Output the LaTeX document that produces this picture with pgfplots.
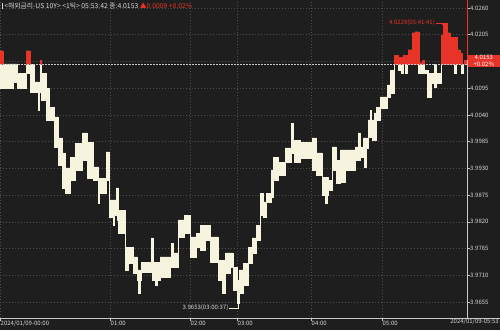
\documentclass[border=0pt]{standalone}
\usepackage{pgfplots}
\pgfplotsset{compat=1.18}
\usepackage{fontspec}
\setmainfont{Noto Sans CJK KR}
\definecolor{bg}{RGB}{30,30,30}
\definecolor{grd}{RGB}{78,78,78}
\definecolor{cream}{RGB}{246,244,222}
\definecolor{upred}{RGB}{232,52,40}
\definecolor{axgray}{RGB}{200,200,200}
\definecolor{txt}{RGB}{215,215,215}
\newcommand{\sm}{\fontsize{6}{7}\selectfont}
\pagecolor{bg}
\begin{document}
\begin{tikzpicture}
\begin{axis}[
  at={(0pt,12pt)}, anchor=south west, scale only axis,
  width=467pt, height=318pt,
  xmin=0, xmax=467, ymin=3.96221, ymax=4.02765,
  axis line style={draw=none},
  clip mode=individual,
  xtick={0,110,190,237,311,382},
  xticklabels={2024/01/09-00:00,01:00,02:00,03:00,04:00,05:00},
  ytick={3.9655,3.9710,3.9765,3.9820,3.9875,3.9930,3.9985,4.0040,4.0095,4.0150,4.0205,4.0260},
  yticklabels={3.9655,3.9710,3.9765,3.9820,3.9875,3.9930,3.9985,4.0040,4.0095,,4.0205,4.0260},
  xtick pos=left, ytick pos=right, yticklabel pos=right,
  tick align=outside, major tick length=2.5pt,
  tick style={axgray, line width=0.5pt},
  /pgf/number format/assume math mode=true,
  x tick label style={font=\sm, text=txt, anchor=north west, inner sep=0pt, xshift=0.5pt, yshift=-0.5pt},
  y tick label style={font=\sm, text=txt, anchor=west, inner sep=0pt, xshift=0.5pt},
  xmajorgrids, ymajorgrids,
  major grid style={grd, line width=0.5pt, dash pattern=on 1pt off 2pt},
]
% high/low envelope of the ticks: upper edge left to right, then lower edge right to left
\addplot[fill=cream, draw=cream, line width=0.4pt] coordinates {
(0,4.0172)(3,4.0172)(3,4.0145)(17,4.0145)(17,4.0126)(26,4.0126)(26,4.0172)(30,4.0172)(30,4.0144)(34,4.0144)(34,4.0108)(40,4.0108)(40,4.0153)(41,4.0153)(41,4.0126)(46,4.0126)(46,4.0095)(49,4.0095)(49,4.0056)(54,4.0056)(54,4.0036)(58,4.0036)(58,3.9993)(62,3.9993)(62,3.9962)(65,3.9962)(65,3.9931)(70,3.9931)(70,3.9953)(75,3.9953)(75,3.9982)(82,3.9982)(82,4.0003)(87,4.0003)(87,3.9984)(93,3.9984)(93,3.9933)(98,3.9933)(98,3.9910)(106,3.9910)(106,3.9964)(109,3.9964)(109,3.9865)(116,3.9865)(116,3.9890)(118,3.9890)(118,3.9844)(125,3.9844)(125,3.9768)(133,3.9768)(133,3.9748)(137,3.9748)(137,3.9721)(141,3.9721)(141,3.9737)(151,3.9737)(151,3.9787)(153,3.9787)(153,3.9737)(160,3.9737)(160,3.9748)(171,3.9748)(171,3.9776)(173,3.9776)(173,3.9756)(178,3.9756)(178,3.9824)(184,3.9824)(184,3.9834)(190,3.9834)(190,3.9789)(196,3.9789)(196,3.9797)(200,3.9797)(200,3.9813)(210,3.9813)(210,3.9789)(218,3.9789)(218,3.9741)(225,3.9741)(225,3.9756)(233,3.9756)(233,3.9727)(237,3.9727)(237,3.9700)(239,3.9700)(239,3.9721)(243,3.9721)(243,3.9735)(248,3.9735)(248,3.9768)(252,3.9768)(252,3.9787)(256,3.9787)(256,3.9813)(260,3.9813)(260,3.9879)(263,3.9879)(263,3.9861)(266,3.9861)(266,3.9879)(271,3.9879)(271,3.9927)(273,3.9927)(273,3.9953)(278,3.9953)(278,3.9943)(285,3.9943)(285,3.9972)(291,3.9972)(291,4.0023)(293,4.0023)(293,3.9988)(300,3.9988)(300,3.9984)(312,3.9984)(312,3.9993)(316,3.9993)(316,3.9962)(322,3.9962)(322,3.9912)(328,3.9912)(328,3.9906)(332,3.9906)(332,3.9974)(336,3.9974)(336,3.9947)(340,3.9947)(340,3.9968)(355,3.9968)(355,3.9974)(358,3.9974)(358,4.0003)(360,4.0003)(360,3.9974)(363,3.9974)(363,3.9993)(368,3.9993)(368,4.0030)(370,4.0030)(370,4.0050)(371,4.0050)(371,4.0030)(374,4.0030)(374,4.0044)(375,4.0044)(375,4.0030)(376,4.0030)(376,4.0056)(380,4.0056)(380,4.0077)(387,4.0077)(387,4.0102)(390,4.0102)(390,4.0132)(394,4.0132)(394,4.0163)(398,4.0163)(398,4.0159)(403,4.0159)(403,4.0163)(408,4.0163)(408,4.0174)(412,4.0174)(412,4.0209)(415,4.0209)(415,4.0211)(419,4.0211)(419,4.0147)(422,4.0147)(422,4.0153)(424,4.0153)(424,4.0132)(428,4.0132)(428,4.0126)(434,4.0126)(434,4.0144)(436,4.0144)(436,4.0126)(441,4.0126)(441,4.0204)(443,4.0204)(443,4.0229)(447,4.0229)(447,4.0209)(450,4.0209)(450,4.0200)(457,4.0200)(457,4.0174)(460,4.0174)(460,4.0167)(462,4.0167)(462,4.0144)(464,4.0144)(464,4.0153)(467,4.0153)
(467,4.0144)(463,4.0144)(463,4.0126)(461,4.0126)(461,4.0144)(456,4.0144)(456,4.0126)(454,4.0126)(454,4.0144)(441,4.0144)(441,4.0106)(436,4.0106)(436,4.0097)(434,4.0097)(434,4.0106)(431,4.0106)(431,4.0077)(427,4.0077)(427,4.0126)(418,4.0126)(418,4.0144)(407,4.0144)(407,4.0126)(405,4.0126)(405,4.0144)(403,4.0144)(403,4.0126)(401,4.0126)(401,4.0132)(398,4.0132)(398,4.0144)(394,4.0144)(394,4.0085)(390,4.0085)(390,4.0077)(387,4.0077)(387,4.0054)(380,4.0054)(380,4.0030)(376,4.0030)(376,3.9988)(372,3.9988)(372,3.9995)(368,3.9995)(368,3.9972)(366,3.9972)(366,3.9933)(364,3.9933)(364,3.9972)(363,3.9972)(363,3.9953)(360,3.9953)(360,3.9947)(355,3.9947)(355,3.9927)(345,3.9927)(345,3.9902)(340,3.9902)(340,3.9900)(336,3.9900)(336,3.9927)(332,3.9927)(332,3.9886)(328,3.9886)(328,3.9875)(327,3.9875)(327,3.9859)(325,3.9859)(325,3.9875)(322,3.9875)(322,3.9916)(316,3.9916)(316,3.9927)(312,3.9927)(312,3.9951)(300,3.9951)(300,3.9943)(294,3.9943)(294,3.9962)(291,3.9962)(291,3.9943)(285,3.9943)(285,3.9916)(278,3.9916)(278,3.9906)(273,3.9906)(273,3.9871)(271,3.9871)(271,3.9861)(266,3.9861)(266,3.9830)(263,3.9830)(263,3.9834)(260,3.9834)(260,3.9783)(256,3.9783)(256,3.9756)(252,3.9756)(252,3.9735)(248,3.9735)(248,3.9690)(243,3.9690)(243,3.9674)(239,3.9674)(239,3.9653)(237,3.9653)(237,3.9680)(233,3.9680)(233,3.9727)(230,3.9727)(230,3.9715)(225,3.9715)(225,3.9674)(222,3.9674)(222,3.9700)(218,3.9700)(218,3.9737)(210,3.9737)(210,3.9783)(205,3.9783)(205,3.9762)(200,3.9762)(200,3.9768)(196,3.9768)(196,3.9748)(190,3.9748)(190,3.9797)(184,3.9797)(184,3.9789)(178,3.9789)(178,3.9727)(170,3.9727)(170,3.9706)(160,3.9706)(160,3.9700)(157,3.9700)(157,3.9690)(155,3.9690)(155,3.9700)(152,3.9700)(152,3.9717)(141,3.9717)(141,3.9700)(140,3.9700)(140,3.9674)(138,3.9674)(138,3.9700)(137,3.9700)(137,3.9715)(133,3.9715)(133,3.9735)(128,3.9735)(128,3.9721)(125,3.9721)(125,3.9797)(118,3.9797)(118,3.9824)(117,3.9824)(117,3.9834)(114,3.9834)(114,3.9813)(113,3.9813)(113,3.9830)(109,3.9830)(109,3.9906)(106,3.9906)(106,3.9879)(99,3.9879)(99,3.9859)(98,3.9859)(98,3.9906)(93,3.9906)(93,3.9910)(87,3.9910)(87,3.9947)(82,3.9947)(82,3.9927)(75,3.9927)(75,3.9906)(70,3.9906)(70,3.9879)(65,3.9879)(65,3.9890)(62,3.9890)(62,3.9937)(58,3.9937)(58,3.9974)(54,3.9974)(54,4.0030)(46,4.0030)(46,4.0071)(41,4.0071)(41,4.0106)(40,4.0106)(40,4.0087)(39,4.0087)(39,4.0050)(38,4.0050)(38,4.0087)(30,4.0087)(30,4.0126)(26,4.0126)(26,4.0095)(17,4.0095)(17,4.0108)(13,4.0108)(13,4.0095)(0,4.0095)
} -- cycle;
% red portions above the previous close
\addplot[fill=upred, draw=upred, line width=0.3pt] coordinates {(0,4.0144)(0,4.0172)(3,4.0172)(3,4.0144)} -- cycle;
\addplot[fill=upred, draw=upred, line width=0.3pt] coordinates {(26,4.0144)(26,4.0172)(30,4.0172)(30,4.0144)} -- cycle;
\addplot[fill=upred, draw=upred, line width=0.3pt] coordinates {(40,4.0144)(40,4.0153)(41,4.0153)(41,4.0144)} -- cycle;
\addplot[fill=upred, draw=upred, line width=0.3pt] coordinates {(394,4.0144)(394,4.0163)(398,4.0163)(398,4.0159)(403,4.0159)(403,4.0163)(408,4.0163)(408,4.0174)(412,4.0174)(412,4.0209)(415,4.0209)(415,4.0211)(419,4.0211)(419,4.0147)(422,4.0147)(422,4.0153)(424,4.0153)(424,4.0144)} -- cycle;
\addplot[fill=upred, draw=upred, line width=0.3pt] coordinates {(441,4.0144)(441,4.0204)(443,4.0204)(443,4.0229)(447,4.0229)(447,4.0209)(450,4.0209)(450,4.0200)(457,4.0200)(457,4.0174)(460,4.0174)(460,4.0167)(462,4.0167)(462,4.0144)(464,4.0144)(464,4.0153)(467,4.0153)(467,4.0144)} -- cycle;
% previous close line
\addplot[axgray, line width=0.6pt, dash pattern=on 1.5pt off 1.5pt] coordinates {(0,4.0144)(467,4.0144)};
% annotations
\draw[upred, line width=0.4pt] (axis cs:435.5,4.0229) -- (axis cs:442,4.0229) -- (axis cs:442,4.0225);
\node[anchor=east, text=upred, font=\sm, inner sep=0.5pt] at (axis cs:435.5,4.0229) {4.0229(05:41:41)};
\draw[cream, line width=0.4pt] (axis cs:229,3.9643) -- (axis cs:238,3.9643) -- (axis cs:238,3.9650);
\node[anchor=east, text=txt, font=\sm, inner sep=0.5pt] at (axis cs:229,3.9643) {3.9653(03:00:37)};
% right axis line
\draw[axgray, line width=0.8pt] (rel axis cs:1,0) -- (rel axis cs:1,1);
\draw[upred, line width=0.8pt] (rel axis cs:1,1) -- (axis cs:467,4.0153);
\node[fill=upred, text=white, anchor=west, inner sep=0.8pt, minimum width=32pt, align=center, font=\fontsize{6}{6.6}\selectfont] at (axis cs:467.6,4.0151) {4.0153\\+0.02\%};
\end{axis}
\draw[axgray, line width=0.8pt] (0,12pt) -- (500pt,12pt);
\node[anchor=north east, inner sep=0pt, font=\sm, text=txt] at (499pt,11pt) {2024/01/09-05:53};
\node[anchor=west, inner sep=0pt, font=\fontsize{6.8}{7.5}\selectfont, text=txt] at (2pt,324pt) {\rule{1pt}{5.5pt}\,<해외금리-US 10Y> <1틱> 05:53:42 종:4.0153 \textcolor{upred}{▲0.0009 +0.02\%}};
\pgfresetboundingbox
\useasboundingbox (0,0) rectangle (500pt,330pt);
\end{tikzpicture}
\end{document}
